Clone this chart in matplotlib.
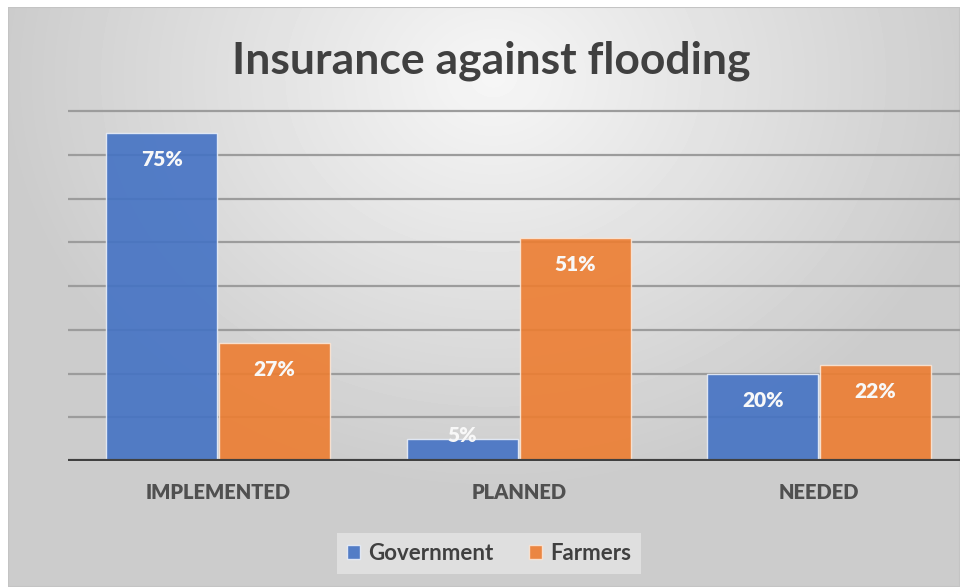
import numpy as np
import matplotlib
matplotlib.use("Agg")
import matplotlib.pyplot as plt
from matplotlib.patches import Rectangle
from matplotlib.font_manager import FontProperties

# Data
categories = ["IMPLEMENTED", "PLANNED", "NEEDED"]
government = [75, 5, 20]
farmers = [27, 51, 22]
series_names = ["Government", "Farmers"]
grid_values = [10, 20, 30, 40, 50, 60, 70, 80]

BLUE = "#4472C4"
ORANGE = "#ED7D31"
FONT = "Lato"


def font(size, weight="bold"):
    return FontProperties(family=FONT, weight=weight, size=size)


W, H = 960, 587
fig = plt.figure(figsize=(W / 100, H / 100), dpi=100, facecolor="white")

# Soft radial background inside a thin frame
bg = fig.add_axes([8 / W, 0, 1 - 8 / W, 1 - 7 / H])
bg.set_axis_off()
yy, xx = np.mgrid[0:580, 0:952]
cx, cy = 485, 70
r = np.sqrt(((xx - cx) / 620.0) ** 2 + ((yy - cy) / 520.0) ** 2)
shade = np.clip(0.965 - 0.21 * r, 0.80, 0.97)
bg.imshow(shade, cmap="gray", vmin=0, vmax=1, aspect="auto",
          extent=[0, 1, 0, 1], origin="upper", interpolation="bilinear")
bg.add_patch(Rectangle((0, 0), 1, 1, transform=bg.transAxes, fill=False,
                       edgecolor="#c4c4c4", lw=1.5))

# Plot area
px_per_unit = 43.75 / 10
left_px, base_px = 68, 461
ymax = 81
ax_h = ymax * px_per_unit
ax = fig.add_axes([left_px / W, (H - base_px) / H, (W - left_px) / W, ax_h / H])
ax.patch.set_alpha(0)
ax.set_ylim(0, ymax)
ax.set_xlim(-0.5, -0.5 + (W - left_px) / 300.5)

for g in grid_values:
    ax.axhline(g, color="#9c9c9c", lw=1.6, zorder=1)
ax.axhline(0, color="#404040", lw=3, zorder=4)

x = np.arange(len(categories))
bw = 0.368
off = 0.188
b1 = ax.bar(x - off, government, bw, color=BLUE, alpha=0.9,
            edgecolor="#e8eef8", lw=1.0, zorder=2, label=series_names[0])
b2 = ax.bar(x + off, farmers, bw, color=ORANGE, alpha=0.9,
            edgecolor="#fbe6d6", lw=1.0, zorder=2, label=series_names[1])

label_drop = 27 / px_per_unit
for xs, vals in ((x - off, government), (x + off, farmers)):
    for xi, v in zip(xs, vals):
        ly = v - label_drop if v - label_drop > 2.5 else v + 0.9
        ax.text(xi, ly, f"{v}%", ha="center", va="center", color="#f8f8f8",
                fontproperties=font(15, "heavy"), zorder=5)

for s in ax.spines.values():
    s.set_visible(False)
ax.set_yticks([])
ax.set_xticks(x)
ax.set_xticklabels(categories, fontproperties=font(14.5, "heavy"),
                   color="#505050")
ax.tick_params(axis="x", length=0, pad=16)

fig.text(491 / W, 1 - 61 / H, "Insurance against flooding", ha="center",
         va="center", fontproperties=font(32), color="#404040")

leg = fig.legend(handles=[b1, b2], labels=series_names,
                 loc="center", bbox_to_anchor=(489 / W, 1 - 553 / H),
                 ncol=2, frameon=True, handlelength=0.6,
                 handleheight=0.6, handletextpad=0.35, columnspacing=1.6,
                 borderpad=0.45, borderaxespad=0, prop=font(16))
leg.get_frame().set_facecolor("#e4e4e4")
leg.get_frame().set_edgecolor("none")
leg.get_frame().set_alpha(0.8)
leg.get_frame().set_boxstyle("square", pad=0)
for t in leg.get_texts():
    t.set_color("#404040")

fig.savefig("out.png", dpi=100)
